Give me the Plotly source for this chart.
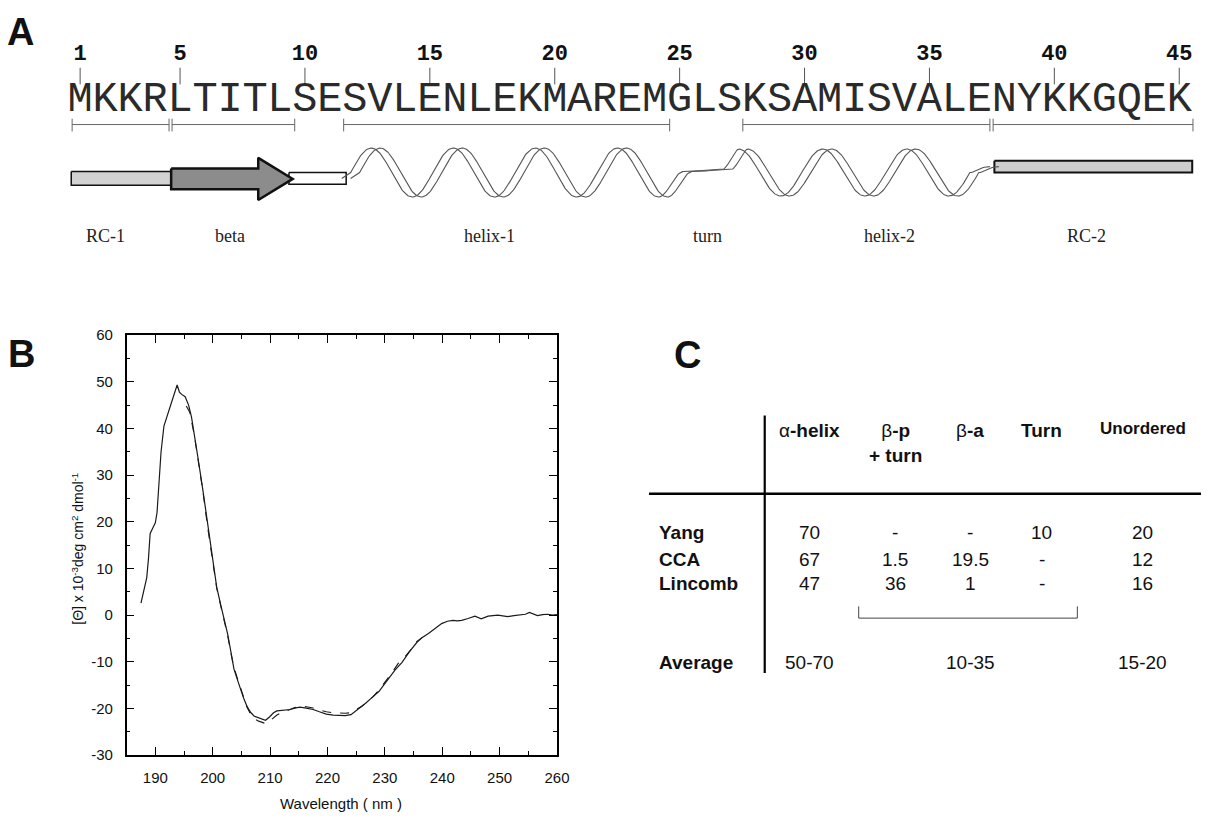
import numpy as np
import plotly.graph_objects as go

W, H = 1214, 821

# ---------------- Panel A data ----------------
sequence = list("MKKRLTITLSESVLENLEKMAREMGLSKSAMISVALENYKKGQEK")
residues = list(range(1, len(sequence) + 1))
number_ticks = [1, 5, 10, 15, 20, 25, 30, 35, 40, 45]

segment_names = ["RC-1", "beta", "helix-1", "turn", "helix-2", "RC-2"]
segment_label_pos = [2.0, 7.0, 17.4, 26.1, 33.4, 41.3]

bar_starts = [0.68, 4.68, 11.55, 27.53, 37.55]
bar_ends = [4.56, 9.59, 24.6, 37.42, 45.55]

rc1_box = [0.644, 4.644]
beta_arrow = [4.644, 8.13, 9.51]      # start, head base, tip
link_box = [9.36, 11.65]
helix1 = [12.01, 4.0]                  # start residue, turns
helix2 = [27.54, 3.0]
rc2_box = [37.60, 45.52]

# ---------------- Panel B data ----------------
wl_solid = [187.5, 188.0, 188.5, 188.8, 189.1, 189.5, 190.0, 190.3, 190.6, 191.0,
            191.5, 192.0, 192.5, 193.0, 193.5, 193.8, 194.2, 194.6, 195.2, 195.8,
            196.3, 196.8, 197.4, 198.3, 199.1, 200.0, 200.7, 201.4, 202.0, 202.6,
            203.2, 203.7, 204.3, 204.8, 205.4, 206.0, 206.6, 207.2, 208.0, 208.6,
            209.2, 209.9, 210.6, 211.2, 211.8, 212.6, 213.5, 214.3, 215.2, 216.3,
            217.5, 218.6, 219.8, 221.0, 222.1, 223.1, 224.1, 225.0, 225.8, 226.7,
            227.8, 229.0, 229.8, 230.7, 231.8, 233.0, 234.3, 235.6, 236.6, 237.6,
            238.7, 239.9, 240.9, 241.9, 242.6, 243.4, 244.5, 245.7, 246.8, 248.0,
            249.7, 250.5, 251.4, 252.5, 253.7, 254.5, 255.2, 255.9, 256.6, 257.5,
            258.4, 259.2, 260.0]
cd_solid = [2.6, 5.0, 8.0, 12.0, 17.5, 18.5, 19.8, 22.0, 28.0, 35.0,
            40.5, 42.5, 44.5, 46.5, 48.0, 49.3, 47.8, 47.3, 46.8, 45.0,
            42.5, 39.0, 34.0, 26.7, 19.5, 11.5, 6.0, 2.2, -0.8, -4.0,
            -8.0, -11.5, -13.8, -15.7, -17.8, -19.6, -20.8, -21.6, -22.0, -22.3,
            -22.5, -21.8, -20.9, -20.5, -20.4, -20.3, -20.2, -19.9, -19.7, -19.9,
            -20.2, -20.7, -21.2, -21.4, -21.5, -21.5, -21.3, -20.5, -19.7, -18.8,
            -17.6, -16.3, -15.0, -13.5, -11.7, -10.1, -7.8, -5.8, -4.7, -3.9,
            -2.8, -1.8, -1.3, -1.1, -1.2, -1.1, -0.7, -0.2, -0.8, -0.2,
            0.0, -0.1, -0.3, -0.1, 0.0, 0.2, 0.6, 0.2, -0.1, 0.1,
            0.2, 0.0, 0.1]

wl_dash = [195.4, 196.0, 196.8, 197.4, 198.3, 199.1, 200.0, 200.7, 201.4, 202.0,
           202.6, 203.2, 203.7, 204.3, 204.8, 205.4, 206.0, 206.6, 207.2, 208.0,
           208.6, 209.2, 209.9, 210.6, 211.2, 211.8, 212.6, 213.5, 214.3, 215.2,
           216.3, 217.5, 218.6, 219.8, 221.0, 222.1, 223.1, 224.1, 225.0, 226.0,
           227.0, 228.0, 229.0, 230.0, 231.2, 232.3, 233.3, 234.4, 235.6, 236.6]
cd_dash = [44.8, 43.5, 38.5, 34.0, 26.5, 19.0, 11.2, 5.8, 2.0, -1.0,
           -4.3, -8.3, -11.2, -13.5, -15.4, -17.8, -19.8, -21.2, -22.2, -22.7,
           -23.0, -23.2, -22.7, -21.9, -21.4, -21.0, -20.6, -20.2, -19.8, -19.5,
           -19.6, -19.9, -20.3, -20.7, -20.9, -21.0, -21.0, -20.9, -20.3, -19.5,
           -18.5, -17.4, -16.0, -14.4, -12.4, -10.4, -9.2, -7.6, -5.6, -4.7]

x_tick_vals = [190, 200, 210, 220, 230, 240, 250, 260]
x_tick_text = ["190", "200", "210", "220", "230", "240", "250", "260"]
y_tick_vals = [-30, -20, -10, 0, 10, 20, 30, 40, 50, 60]
y_tick_text = ["-30", "-20", "-10", "0", "10", "20", "30", "40", "50", "60"]

# ---------------- Panel C data ----------------
col_headers = ["α<b>-helix</b>", "β<b>-p</b><br><b>+ turn</b>", "β<b>-a</b>", "<b>Turn</b>", "<b>Unordered</b>"]
methods = ["Yang", "CCA", "Lincomb"]
val_helix = ["70", "67", "47"]
val_bp_turn = ["-", "1.5", "36"]
val_ba = ["-", "19.5", "1"]
val_turn = ["10", "-", "-"]
val_unordered = ["20", "12", "16"]
average_label = "Average"
average_values = ["50-70", "10-35", "15-20"]

# ---------------- geometry helpers ----------------
PX0, PPR = 81.0, 25.25   # pixel of residue 1, pixels per residue


def r2px(r):
    return PX0 + (r - 1) * PPR


def px2r(px):
    return 1 + (np.asarray(px, dtype=float) - PX0) / PPR


fig = go.Figure()
A = dict(xaxis="x2", yaxis="y2", hoverinfo="skip", showlegend=False)

# sequence numbers and ticks
fig.add_trace(go.Scatter(x=number_ticks, y=[46] * len(number_ticks), mode="text",
                         text=[str(n) for n in number_ticks],
                         textfont=dict(family="Liberation Mono", size=22, color="#111",
                                       weight="bold"),
                         **A))
tx, ty = [], []
for n in number_ticks:
    tx += [n, n, None]
    ty += [60, 77, None]
fig.add_trace(go.Scatter(x=tx, y=ty, mode="lines", line=dict(color="#555", width=1), **A))

# sequence letters
fig.add_trace(go.Scatter(x=residues, y=[93] * len(residues), mode="text", text=sequence,
                         textfont=dict(family="Liberation Mono", size=42, color="#2a2a2a"),
                         **A))

# range bars
bx, by = [], []
for s, e in zip(bar_starts, bar_ends):
    bx += [s, e, None, s, s, None, e, e, None]
    by += [118, 118, None, 112, 125, None, 112, 125, None]
fig.add_trace(go.Scatter(x=bx, y=by, mode="lines", line=dict(color="#666", width=1), **A))


# structure cartoon
def box(x0, x1, y0, y1, fill, lw):
    fig.add_trace(go.Scatter(x=[x0, x1, x1, x0, x0], y=[y0, y0, y1, y1, y0], mode="lines",
                             fill="toself", fillcolor=fill,
                             line=dict(color="#111", width=lw), **A))


box(rc1_box[0], rc1_box[1], 166, 180, "#d2d2d2", 1.5)
box(link_box[0], link_box[1], 167, 179, "white", 1.5)
b0, bh, bt = beta_arrow
fig.add_trace(go.Scatter(x=[b0, bh, bh, bt, bh, bh, b0, b0],
                         y=[163, 163, 152, 173.5, 195, 184, 184, 163], mode="lines",
                         fill="toself", fillcolor="#8c8c8c",
                         line=dict(color="#111", width=2.5), **A))
box(rc2_box[0], rc2_box[1], 155, 167, "#cdcdcd", 2)

# helix ribbon (schematic)
h1_start = r2px(helix1[0])
P1 = 83.0
P2 = 85.0
xc, yc = [], []
xc += list(np.linspace(r2px(link_box[1]), h1_start, 6)[:-1])
yc += list(np.linspace(173, 167, 6)[:-1])
h1_end = h1_start + P1 * (helix1[1] - 0.25)
xs = np.linspace(h1_start, h1_end, 320)
xc += list(xs)
yc += list(167 - 25 * np.sin(2 * np.pi * (xs - h1_start) / P1))
h2_start = r2px(helix2[0])
t1 = np.linspace(h1_end, h1_end + 25, 30)[1:]
xc += list(t1)
yc += list(192 - 26 * (1 - np.cos(np.pi * (t1 - h1_end) / 25)) / 2)
t2 = np.linspace(h1_end + 25, h2_start - 18, 30)[1:]
xc += list(t2)
yc += list(166 - 2 * (t2 - t2[0]) / (t2[-1] - t2[0]))
t3 = np.linspace(h2_start - 18, h2_start, 20)[1:]
xc += list(t3)
yc += list(164 - 21 * (1 - np.cos(np.pi * (t3 - t3[0]) / 18)) / 2)
xs2 = np.linspace(h2_start, h2_start + P2 * (helix2[1] - 0.25), 260)[1:]
xc += list(xs2)
yc += list(167 - 24 * np.cos(2 * np.pi * (xs2 - h2_start) / P2))
xe = np.linspace(xs2[-1], r2px(rc2_box[0]), 12)[1:]
xc += list(xe)
yc += list(167 - 6 * np.sin(np.pi / 2 * (xe - xe[0]) / (xe[-1] - xe[0])))
xc = np.array(xc)
for off in (-4.5, 4.5):
    fig.add_trace(go.Scatter(x=px2r(xc + off), y=yc, mode="lines",
                             line=dict(color="#555", width=1.1), **A))

# ---------------- Panel B traces ----------------
fig.add_trace(go.Scatter(x=wl_solid, y=cd_solid, mode="lines",
                         line=dict(color="#1a1a1a", width=1.2),
                         xaxis="x", yaxis="y", hoverinfo="skip", showlegend=False))
fig.add_trace(go.Scatter(x=wl_dash, y=cd_dash, mode="lines",
                         line=dict(color="#1a1a1a", width=1.1, dash="dash"),
                         xaxis="x", yaxis="y", hoverinfo="skip", showlegend=False))

# ---------------- annotations ----------------
annotations = []


def ann(px, py, text, size, family="Liberation Sans", xanchor="center", angle=0, color="#111"):
    annotations.append(dict(x=px / W, y=1 - py / H, xref="paper", yref="paper",
                            text=text, showarrow=False, xanchor=xanchor, yanchor="middle",
                            textangle=angle,
                            font=dict(family=family, size=size, color=color)))


# segment labels (tied to the residue axis of panel A)
for name, pos in zip(segment_names, segment_label_pos):
    annotations.append(dict(x=pos, y=232, xref="x2", yref="y2", text=name,
                            showarrow=False, xanchor="center", yanchor="middle",
                            font=dict(family="Liberation Serif", size=18, color="#222")))

ann(21, 23, "<b>A</b>", 38)
ann(22, 352, "<b>B</b>", 38)
ann(695, 353, "<b>C</b>", 38)

ann(78, 551, "[Θ] x 10<sup>-3</sup>deg cm<sup>2</sup> dmol<sup>-1</sup>", 14, angle=-90)
ann(345, 811, "Wavelength ( nm )", 15)

# Table
col_x = [818, 905, 981, 1053, 1155]
for i, h in enumerate(col_headers):
    if "<br>" in h:
        ann(col_x[i], 443, h, 19)
    elif "Unordered" in h:
        ann(col_x[i], 428, h, 17)
    else:
        ann(col_x[i], 430, h, 19)
row_y = [535, 562, 587]
columns = [val_helix, val_bp_turn, val_ba, val_turn, val_unordered]
for j, m in enumerate(methods):
    ann(664, row_y[j], "<b>" + m + "</b>", 19, xanchor="left")
    for i, col in enumerate(columns):
        ann(col_x[i], row_y[j], col[j], 19)
ann(664, 667, "<b>" + average_label + "</b>", 19, xanchor="left")
avg_x = [col_x[0], (col_x[1] + col_x[3]) / 2 + 2, col_x[4]]
for x, v in zip(avg_x, average_values):
    ann(x, 667, v, 19)

shapes = []


def seg(x0, y0, x1, y1, w, color="black"):
    shapes.append(dict(type="line", xref="paper", yref="paper",
                       x0=x0 / W, x1=x1 / W, y0=1 - y0 / H, y1=1 - y1 / H,
                       line=dict(color=color, width=w)))


seg(656, 495, 1214, 495, 2.5)
seg(773, 415, 773, 678, 2.2)
seg(868, 610, 868, 622, 1, "#444")
seg(868, 622, 1089, 622, 1, "#444")
seg(1089, 622, 1089, 610, 1, "#444")

axis_font = dict(family="Liberation Sans, Arial", size=15, color="#111")
fig.update_layout(
    width=W, height=H, autosize=False,
    margin=dict(l=0, r=0, t=0, b=0),
    paper_bgcolor="white", plot_bgcolor="white",
    showlegend=False,
    xaxis=dict(domain=[128 / W, 563 / W], range=[185, 260], anchor="y",
               showline=True, linecolor="black", linewidth=1.5, mirror="ticks",
               ticks="inside", ticklen=8, tickwidth=1.2, tickcolor="black",
               tickmode="array", tickvals=x_tick_vals, ticktext=x_tick_text,
               minor=dict(ticks="inside", ticklen=4, tick0=185, dtick=5,
                          tickcolor="black", tickwidth=1),
               showgrid=False, zeroline=False, tickfont=axis_font, ticklabelstandoff=8,
               fixedrange=True),
    yaxis=dict(domain=[1 - 762 / H, 1 - 333 / H], range=[-30, 60], anchor="x",
               showline=True, linecolor="black", linewidth=1.5, mirror="ticks",
               ticks="inside", ticklen=8, tickwidth=1.2, tickcolor="black",
               tickmode="array", tickvals=y_tick_vals, ticktext=y_tick_text,
               minor=dict(ticks="inside", ticklen=4, tick0=-30, dtick=5,
                          tickcolor="black", tickwidth=1),
               showgrid=False, zeroline=False, tickfont=axis_font, ticklabelstandoff=9,
               fixedrange=True),
    xaxis2=dict(domain=[0, 1], range=[float(px2r(0)), float(px2r(W))], anchor="y2",
                visible=False, fixedrange=True),
    yaxis2=dict(domain=[1 - 290 / H, 1], range=[290, 0], anchor="x2",
                visible=False, fixedrange=True),
    annotations=annotations,
    shapes=shapes,
)

post = ("var gd=document.getElementById('{plot_id}');"
        "gd.style.position='fixed';gd.style.top='0px';gd.style.left='0px';"
        "document.body.style.margin='0px';document.body.style.overflow='hidden';"
        "document.documentElement.style.overflow='hidden';")
fig.write_html("out.html", config={"displayModeBar": False}, post_script=post)
